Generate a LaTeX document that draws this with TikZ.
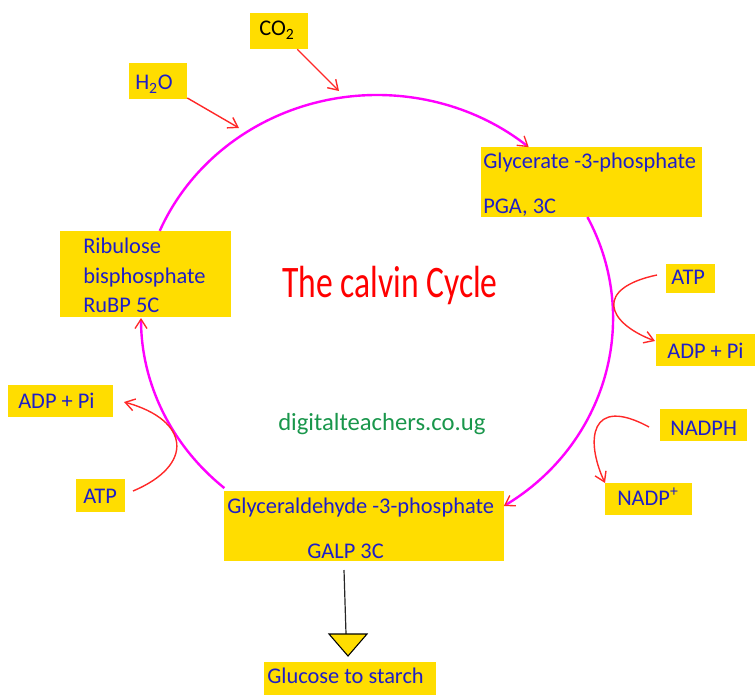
\documentclass[tikz,border=0pt]{standalone}
\usepackage{fontspec}
\setmainfont{Carlito}
\usetikzlibrary{arrows.meta,fit,calc}
\definecolor{boxyellow}{RGB}{255,221,0}
\definecolor{txtblue}{RGB}{30,30,200}
\definecolor{cycmag}{RGB}{255,0,255}
\definecolor{arrred}{RGB}{255,40,40}
\definecolor{webgreen}{RGB}{25,150,75}
\begin{document}
\begin{tikzpicture}[x=0.75pt,y=-0.75pt,
  box/.style={fill=boxyellow, inner sep=0pt, draw=none},
  lbl/.style={anchor=base west, inner sep=0pt, text=txtblue, font=\fontsize{16.8pt}{20pt}\selectfont},
  cyc/.style={draw=cycmag, line width=1.8pt, -{Straight Barb[length=7pt,width=9pt,color=arrred,line width=1pt]}},
  redarr/.style={draw=arrred, line width=1.05pt, -{Straight Barb[length=7pt,width=9pt]}},
  stemline/.style={draw=black!85, line width=0.9pt}]
\useasboundingbox (0,0) rectangle (755,695);

% boxes
\node[box, fit={(250,13) (308,49)}] (co2) {};
\node[box, fit={(129,63) (187,99)}] (h2o) {};
\node[box, fit={(481,147) (702,217)}] (pga) {};
\node[box, fit={(666,264) (715,293)}] (atpR) {};
\node[box, fit={(656,334) (755,366)}] (adpR) {};
\node[box, fit={(660,409) (747,441)}] (nadph) {};
\node[box, fit={(605,483) (692,515)}] (nadp) {};
\node[box, fit={(8,385) (113,417)}] (adpL) {};
\node[box, fit={(76,479) (125,512)}] (atpL) {};
\node[box, fit={(60,231) (231,317)}] (rubp) {};
\node[box, fit={(224,491) (504,561)}] (galp) {};
\node[box, fit={(264,662) (436,695)}] (glu) {};

% texts
\node[lbl, text=black] (tco2) at (259,36) {CO\textsubscript{2}};
\node[lbl] (th2o) at (135,90) {H\textsubscript{2}O};
\node[lbl] (tpga1) at (483,169) {Glycerate -3-phosphate};
\node[lbl] (tpga2) at (483,213) {PGA, 3C};
\node[lbl] (tatpR) at (671,284) {ATP};
\node[lbl] (tadpR) at (667,358) {ADP + Pi};
\node[lbl] (tnadph) at (670,435) {NADPH};
\node[lbl] (tnadp) at (617,505) {NADP\textsuperscript{+}};
\node[lbl] (tadpL) at (18,408) {ADP + Pi};
\node[lbl] (tatpL) at (83,503) {ATP};
\node[lbl] (trub1) at (83,253) {Ribulose};
\node[lbl] (trub2) at (83,283) {bisphosphate};
\node[lbl] (trub3) at (83,312) {RuBP 5C};
\node[lbl] (tgalp1) at (227,513) {Glyceraldehyde -3-phosphate};
\node[lbl] (tgalp2) at (307,558) {GALP 3C};
\node[lbl] (tglu) at (267,683) {Glucose to starch};
\node[anchor=base west, inner sep=0pt, text=red, font=\fontsize{33.8pt}{40pt}\selectfont] (title) at (282,297) {\scalebox{0.745}[1]{The calvin Cycle}};
\node[anchor=base west, inner sep=0pt, text=webgreen, font=\fontsize{18.5pt}{22pt}\selectfont] (web) at (278,430) {digitalteachers.co.ug};

% cycle arcs
\coordinate (E) at (377,318);
\draw[cyc] ([shift={(E)}]-157:236 and 223) arc[start angle=-157, end angle=-50, x radius=236, y radius=223];
\draw[cyc] ([shift={(E)}]-26.9:236 and 223) arc[start angle=-26.9, end angle=57.5, x radius=236, y radius=223];
\draw[cyc] ([shift={(E)}]130.3:236 and 223) arc[start angle=130.3, end angle=180, x radius=236, y radius=223];

% inputs
\coordinate (co2end) at (339,91);
\coordinate (h2oend) at (239,128);
\draw[redarr] (co2) -- (co2end);
\draw[redarr] (h2o) -- (h2oend);

% ATP -> ADP (right)
\coordinate (aR1) at (657,275);
\coordinate (aR2) at (655,341);
\draw[redarr] (aR1) .. controls (595,288) and (605,322) .. (aR2);
% NADPH -> NADP+
\coordinate (nR1) at (649,427);
\coordinate (nR2) at (605,483);
\draw[redarr] (nR1) .. controls (590,395) and (585,440) .. (nR2);
% ATP -> ADP (left)
\coordinate (aL1) at (133,491);
\coordinate (aL2) at (124,402);
\draw[redarr] (aL1) .. controls (195,465) and (190,420) .. (aL2);

% to starch
\coordinate (s1) at (344,570);
\coordinate (s2) at (346,634);
\draw[stemline] (s1) -- (s2);
\draw[fill=boxyellow, draw=black, line width=0.8pt] (329,634) -- (367,634) -- (348,656) -- cycle;
\end{tikzpicture}
\end{document}
